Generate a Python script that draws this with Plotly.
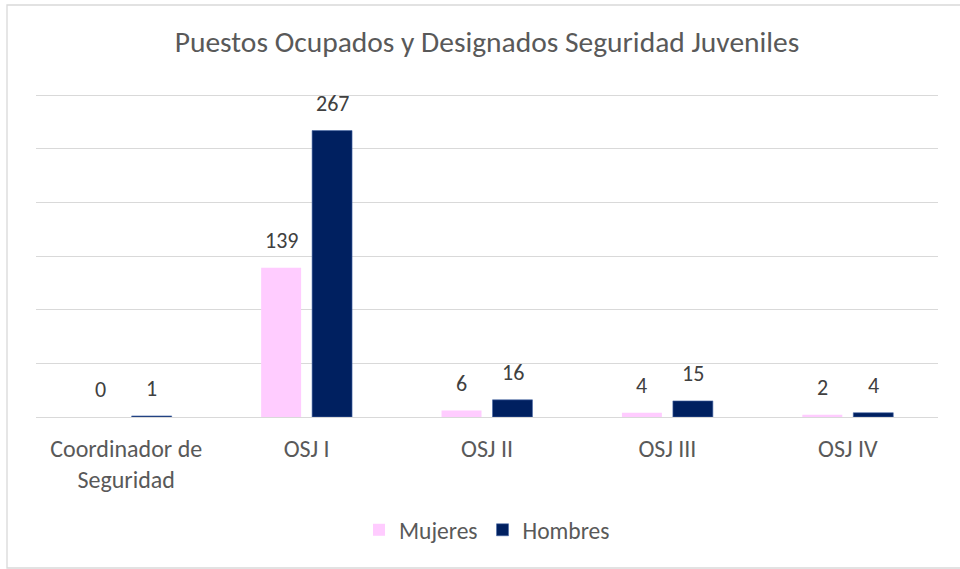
import plotly.graph_objects as go

# chart data
categorias = ['Coordinador de<br>Seguridad', 'OSJ I', 'OSJ II', 'OSJ III', 'OSJ IV']
mujeres = [0, 139, 6, 4, 2]
hombres = [1, 267, 16, 15, 4]

font_family = 'Carlito, Calibri, Lato, sans-serif'
label_color = '#404040'

fig = go.Figure()
fig.add_trace(go.Bar(x=categorias, y=mujeres, name='Mujeres',
                     marker=dict(color='#FFCCFF', line=dict(width=0))))
fig.add_trace(go.Bar(x=categorias, y=hombres, name='Hombres',
                     marker=dict(color='#002060', line=dict(color='#4A6AA8', width=0.6))))

# data labels, Excel style: sitting a bit above each bar
for serie, shift in ((mujeres, -25.5), (hombres, 25.5)):
    for cat, val in zip(categorias, serie):
        fig.add_annotation(x=cat, y=val, text=str(val), showarrow=False,
                           xshift=shift, yshift=12, yanchor='bottom',
                           font=dict(size=22, color=label_color, family=font_family))

fig.update_layout(
    width=960, height=569,
    paper_bgcolor='white', plot_bgcolor='white',
    margin=dict(l=36, r=22, t=93, b=152),
    font=dict(family=font_family, color='#595959'),
    title=dict(text='Puestos Ocupados y Designados Seguridad Juveniles',
               x=0.5, xref='paper', xanchor='center', y=1 - 42 / 569, yanchor='middle',
               font=dict(size=29.5, color='#595959')),
    barmode='group', bargap=0.435, bargroupgap=0.216,
    showlegend=True,
    legend=dict(orientation='h', x=0.5, xanchor='center', xref='paper',
                y=1 - 530 / 569, yref='container', yanchor='middle',
                font=dict(size=23.5, color='#595959'), traceorder='normal'),
)
fig.update_xaxes(showgrid=False, showline=False, zeroline=False, ticks='',
                 tickfont=dict(size=24, color='#595959'), ticklabelstandoff=15)
fig.update_yaxes(range=[0, 302], dtick=50, showgrid=True, gridcolor='#D9D9D9', gridwidth=1.3,
                 showticklabels=False, zeroline=True, zerolinecolor='#D9D9D9', zerolinewidth=1.3,
                 showline=False)

# outer chart border (right edge lies outside the captured frame)
fig.add_shape(type='rect', xref='paper', yref='paper',
              x0=-29 / 902, x1=1.05, y0=-151 / 324, y1=1 + 88 / 324,
              line=dict(color='#D9D9D9', width=1.3), fillcolor='rgba(0,0,0,0)')

fig.write_html('out.html', config={'displayModeBar': False},
               post_script="document.body.style.margin='0';")
